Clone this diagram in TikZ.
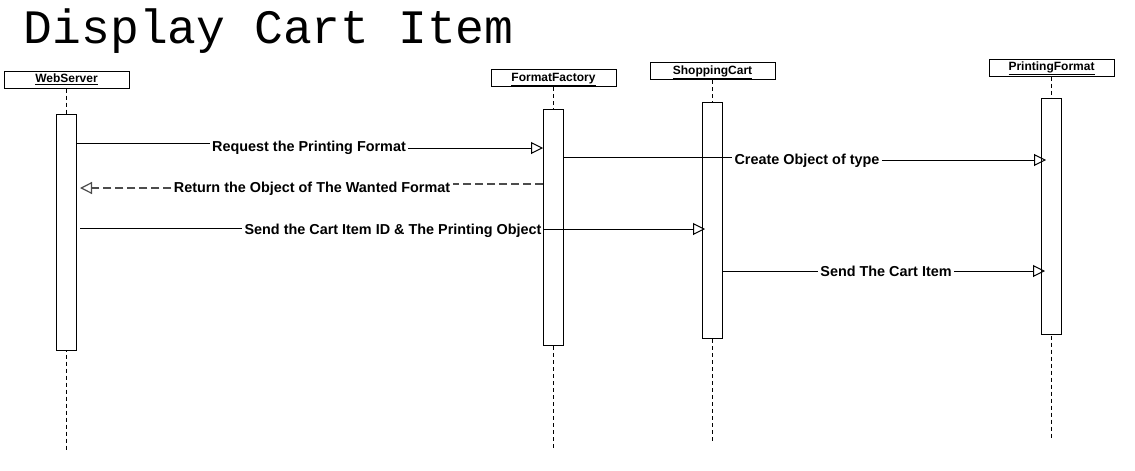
\documentclass[tikz,border=0pt]{standalone}
\usepackage{fontspec}
\setmainfont{Liberation Sans}
\newfontfamily\titlefont{Liberation Mono}
\usetikzlibrary{arrows.meta}

\begin{document}
\begin{tikzpicture}[x=1pt, y=-1pt, line width=1pt,
    head/.style={draw, fill=white, minimum width=125pt, minimum height=17pt, inner sep=0pt,
        text height=9pt, text depth=3pt, font=\fontsize{12}{12}\selectfont\bfseries},
    act/.style={draw, fill=white, minimum width=20pt, minimum height=236pt, inner sep=0pt, anchor=north},
    life/.style={dash pattern=on 4pt off 3pt},
    msg/.style={inner sep=2pt, text height=10pt, text depth=1pt, font=\fontsize{14.4}{14}\selectfont\bfseries},
    call/.style={-{Triangle[open, length=12pt, width=12pt]}},
    back/.style={draw=black!70, line width=1.2pt, dash pattern=on 8pt off 4pt}]

    \useasboundingbox (0,0) rectangle (1135,471);
    \node[anchor=base west, font=\titlefont\fontsize{48}{48}\selectfont] (Title) at (20,43.5) {Display Cart Item};

    % Lifelines
    \foreach \name/\i/\x/\y/\top/\bot in {WebServer/1/66.5/79.5/114/450,
        FormatFactory/2/553.5/78/109/450, ShoppingCart/3/712.5/71/102/442,
        PrintingFormat/4/1051.5/67.5/98/438} {
        \node[head] (Head-\i) at (\x,\y) {\underline{\name}};
        \coordinate (End-\i) at (\x,\bot);
        \draw[life] (Head-\i.south) -- (End-\i);
        \node[act] (Act-\i) at (\x,\top) {};
    }

    % Messages
    \node[msg] (Req) at (309,147) {Request the Printing Format};
    \draw (Act-1.east |- 0,143) -- (Req.west |- 0,143);
    \draw[call] (Req.east |- 0,148) -- (Act-2.west |- 0,148);

    \node[msg] (Cre) at (807,160) {Create Object of type};
    \draw (Act-2.east |- 0,157) -- (Cre.west |- 0,157);
    \draw[call] (Cre.east |- 0,160) -- ([xshift=5pt]Act-4.west |- 0,160);

    \node[msg] (Ret) at (312,188) {Return the Object of The Wanted Format};
    \draw[back] (Act-2.west |- 0,184) -- (Ret.east |- 0,184);
    \draw[back, call] (Ret.west |- 0,188) -- ([xshift=3pt]Act-1.east |- 0,188);

    \node[msg] (Snd) at (393,230) {Send the Cart Item ID \& The Printing Object};
    \draw ([xshift=3pt]Act-1.east |- 0,228) -- (Snd.west |- 0,228);
    \draw[call] (Snd.east |- 0,229) -- ([xshift=3pt]Act-3.west |- 0,229);

    \node[msg] (Crt) at (886,272) {Send The Cart Item};
    \draw (Act-3.east |- 0,271) -- (Crt.west |- 0,271);
    \draw[call] (Crt.east |- 0,271) -- ([xshift=4pt]Act-4.west |- 0,271);
\end{tikzpicture}
\end{document}
